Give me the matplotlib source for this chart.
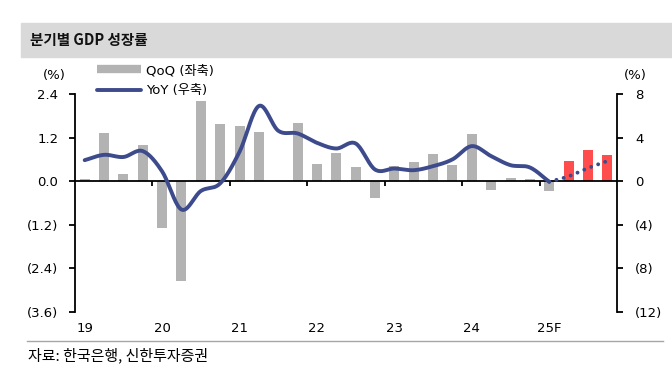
import numpy as np
import matplotlib
matplotlib.use("Agg")
import matplotlib.pyplot as plt
from matplotlib.lines import Line2D
from matplotlib.patches import Rectangle
import matplotlib.transforms as mtransforms

plt.rcParams['font.family'] = ['DejaVu Sans', 'Noto Sans CJK KR']
KR = ['Noto Sans CJK KR', 'DejaVu Sans']

# ---------------- data ----------------
quarters = [f"{y}Q{q}" for y in range(19, 26) for q in range(1, 5)]
year_labels = ["19", "20", "21", "22", "23", "24", "25F"]
qoq = [0.05, 1.33, 0.21, 0.99, -1.29, -2.75, 2.2, 1.57,
       1.53, 1.35, 0.0, 1.59, 0.47, 0.78, 0.38, -0.45,
       0.42, 0.54, 0.74, 0.44, 1.30, -0.23, 0.09, 0.07,
       -0.27, 0.56, 0.86, 0.72]
forecast_from = 25  # index of first forecast quarter (bars in red)
yoy_actual = [1.93, 2.42, 2.22, 2.76, 0.90, -2.6, -0.9, -0.2,
              2.7, 6.9, 4.63, 4.38, 3.52, 3.0, 3.46, 1.07,
              1.16, 1.01, 1.38, 2.0, 3.22, 2.3, 1.47, 1.26, -0.05]
yoy_forecast = [-0.05, 0.45, 1.2, 1.85]   # 25Q1 .. 25Q4
left_ticks = [2.4, 1.2, 0.0, -1.2, -2.4, -3.6]
right_ticks = [8, 4, 0, -4, -8, -12]

def fmt_left(v):
    return f"({abs(v):.1f})" if v < 0 else f"{v:.1f}"

def fmt_right(v):
    return f"({abs(v):d})" if v < 0 else f"{v:d}"

def smooth(xs, ys, n=20):
    xs = np.asarray(xs, float); ys = np.asarray(ys, float)
    P = np.column_stack([xs, ys])
    P = np.vstack([2 * P[0] - P[1], P, 2 * P[-1] - P[-2]])
    out = []
    for i in range(1, len(P) - 2):
        p0, p1, p2, p3 = P[i - 1], P[i], P[i + 1], P[i + 2]
        t = np.linspace(0, 1, n, endpoint=False)[:, None]
        c = 0.5 * ((2 * p1) + (-p0 + p2) * t + (2 * p0 - 5 * p1 + 4 * p2 - p3) * t ** 2
                   + (-p0 + 3 * p1 - 3 * p2 + p3) * t ** 3)
        out.append(c)
    out.append(P[-2][None, :])
    out = np.vstack(out)
    return out[:, 0], out[:, 1]

# ---------------- figure ----------------
W, H = 672, 381
fig = plt.figure(figsize=(W / 100, H / 100), dpi=100)
fig.patch.set_facecolor("white")

# title band
fig.patches.append(Rectangle((21 / W, 1 - 57 / H), 1 - 21 / W, 34 / H,
                             transform=fig.transFigure, color="#D9D9D9", zorder=0))
fig.text(30 / W, 1 - 40 / H, "분기별 GDP 성장률", fontsize=10.5, fontweight="bold",
         va="center", ha="left", color="#111111", family=KR)

ax = fig.add_axes([75 / W, 1 - 312 / H, (617 - 75) / W, (312 - 94) / H])
ax2 = ax.twinx()

x = np.arange(len(quarters))
colors = ["#B3B3B3" if i < forecast_from else "#FF4D4D" for i in range(len(qoq))]
ax.bar(x, qoq, width=0.52, color=colors, zorder=2)
ax.axhline(0, color="black", lw=1.3, zorder=3)

ax.set_xlim(-0.5, len(quarters) - 0.5)
ax.set_ylim(-3.6, 2.4)
ax2.set_ylim(-12, 8)

ax.set_yticks(left_ticks)
ax.set_yticklabels([fmt_left(v) for v in left_ticks], fontsize=9.5)
ax2.set_yticks(right_ticks)
ax2.set_yticklabels([fmt_right(v) for v in right_ticks], fontsize=9.5)
ax.tick_params(axis="y", direction="out", length=4, width=1.3, pad=8)
ax2.tick_params(axis="y", direction="out", length=4, width=1.3, pad=9)

# x axis: boundary ticks on the zero line, labels at Q1 of each year along the bottom
for a in (ax, ax2):
    for s in ("top", "bottom"):
        a.spines[s].set_visible(False)
ax.spines["left"].set_linewidth(1.3)
ax2.spines["right"].set_linewidth(1.3)
ax2.spines["left"].set_visible(False)
ax.spines["right"].set_visible(False)
ax2.tick_params(axis="x", bottom=False, labelbottom=False)
ax.tick_params(axis="x", bottom=False, labelbottom=False)

bounds = np.arange(3.5, len(quarters) - 1, 4)
ax.vlines(bounds, -0.13, 0, color="black", lw=1.3, zorder=3)
trans = mtransforms.blended_transform_factory(ax.transData, ax.transAxes)
for k, lab in enumerate(year_labels):
    ax.text(4 * k, -0.075, lab, transform=trans, ha="center", va="center", fontsize=9.5)

# YoY line
xs, ys = smooth(x[:len(yoy_actual)], yoy_actual)
ax2.plot(xs, ys, color="#3D4B8C", lw=2.8, solid_capstyle="round", zorder=4)
fx = x[len(yoy_actual) - 1:len(yoy_actual) - 1 + len(yoy_forecast)]
xs2, ys2 = smooth(fx, yoy_forecast)
ax2.plot(xs2, ys2, color="#3D4B8C", lw=2.8, linestyle=(0, (0.01, 1.9)),
         dash_capstyle="round", zorder=4)
ax2.set_zorder(ax.get_zorder() + 1)
ax2.patch.set_visible(False)

# unit labels
fig.text(54 / W, 1 - 75 / H, "(%)", fontsize=9.5, ha="center", va="center")
fig.text(635 / W, 1 - 75 / H, "(%)", fontsize=9.5, ha="center", va="center")

# legend
handles = [Line2D([], [], color="#B3B3B3", lw=6, solid_capstyle="butt"),
           Line2D([], [], color="#3D4B8C", lw=2.8, solid_capstyle="round")]
leg = fig.legend(handles, ["QoQ (좌축)", "YoY (우축)"], loc="upper left",
                 bbox_to_anchor=(97 / W, 1 - 64 / H), frameon=False, fontsize=9.5,
                 handlelength=3.3, handletextpad=0.4, labelspacing=0.55, borderpad=0,
                 borderaxespad=0)

# source
fig.add_artist(Line2D([27 / W, 663 / W], [1 - 341 / H, 1 - 341 / H],
                      transform=fig.transFigure, color="#A6A6A6", lw=1))
fig.text(28 / W, 1 - 355 / H, "자료: 한국은행, 신한투자증권", fontsize=10.8,
         ha="left", va="center", family=KR)

fig.savefig("out.png", dpi=100)
